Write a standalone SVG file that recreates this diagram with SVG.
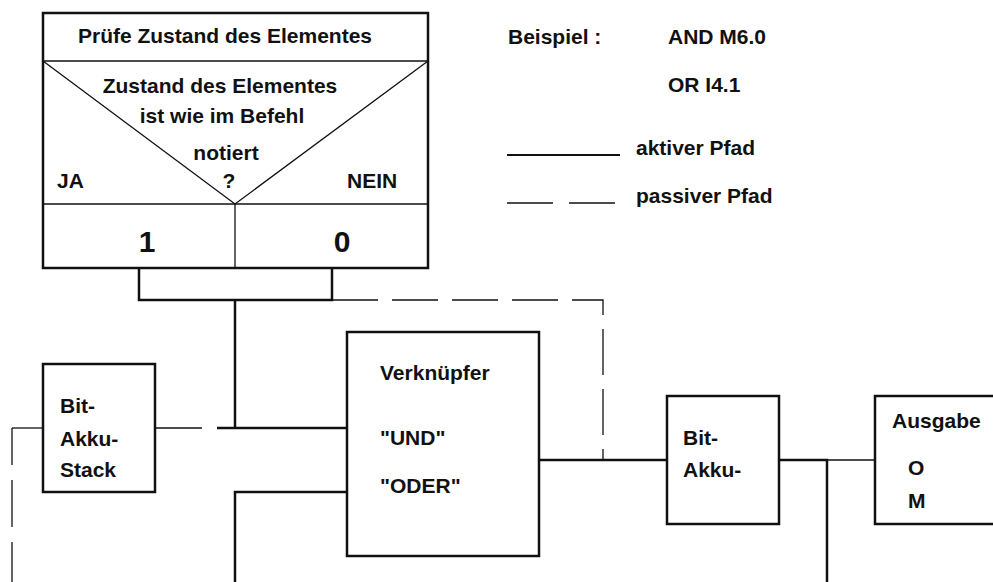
<svg xmlns="http://www.w3.org/2000/svg" width="993" height="582" viewBox="0 0 993 582">
<style>
text{font-family:"Liberation Sans",Arial,sans-serif;font-weight:bold;font-size:21px;fill:#111}
.box{fill:#fff;stroke:#111;stroke-width:2.5}
.thin{fill:none;stroke:#111;stroke-width:1.3}
.thick{fill:none;stroke:#111;stroke-width:2.5}
.dash{fill:none;stroke:#111;stroke-width:1.3;stroke-dasharray:46,14}
.c{text-anchor:middle}
</style>
<rect width="993" height="582" fill="#fff"/>
<g id="connectors">
<polyline class="thick" points="139,268 139,300 332,300 332,268"/>
<line class="thick" x1="235" y1="300" x2="235" y2="428"/>
<line class="thick" x1="217" y1="428" x2="348" y2="428"/>
<line class="thin" x1="155" y1="428" x2="202" y2="428"/>
<line class="thin" x1="12" y1="428" x2="43" y2="428"/>
<line class="thin" x1="12" y1="428" x2="12" y2="465"/>
<line class="thin" x1="12" y1="480" x2="12" y2="527"/>
<line class="thin" x1="12" y1="542" x2="12" y2="582"/>
<polyline class="thick" points="348,492 235,492 235,582"/>
<polyline class="dash" points="332,300 603,300 603,460"/>
<line class="thick" x1="539" y1="460" x2="667" y2="460"/>
<polyline class="thick" points="779,460 827,460 827,582"/>
<line class="thin" x1="827" y1="460" x2="875" y2="460"/>
<line class="thick" x1="507" y1="155" x2="620" y2="155" style="stroke-width:2"/>
<line class="thin" x1="507" y1="203" x2="553" y2="203"/>
<line class="thin" x1="569" y1="203" x2="615" y2="203"/>
</g>
<g id="pruefe">
<rect class="box" x="43" y="13" width="385" height="255"/>
<line class="thin" x1="43" y1="61" x2="428" y2="61"/>
<polyline class="thin" points="43,61 235,204 428,61"/>
<line class="thin" x1="43" y1="204" x2="428" y2="204"/>
<line class="thin" x1="235" y1="204" x2="235" y2="268"/>
<text class="c" x="225" y="43">Prüfe Zustand des Elementes</text>
<text class="c" x="220" y="93">Zustand des Elementes</text>
<text class="c" x="222" y="123">ist wie im Befehl</text>
<text class="c" x="226" y="160">notiert</text>
<text x="57" y="188">JA</text>
<text class="c" x="229" y="188">?</text>
<text x="347" y="188">NEIN</text>
<text class="c" x="147" y="252" style="font-size:30px">1</text>
<text class="c" x="342" y="252" style="font-size:30px">0</text>
</g>
<g id="legend">
<text x="508" y="44">Beispiel :</text>
<text x="668" y="44">AND M6.0</text>
<text x="668" y="92">OR I4.1</text>
<text x="636" y="155">aktiver Pfad</text>
<text x="636" y="203">passiver Pfad</text>
</g>
<g id="stack">
<rect class="box" x="43" y="364" width="112" height="128"/>
<text x="60" y="413">Bit-</text>
<text x="60" y="446">Akku-</text>
<text x="60" y="477">Stack</text>
</g>
<g id="verknuepfer">
<rect class="box" x="347" y="332" width="192" height="224"/>
<text x="380" y="380">Verknüpfer</text>
<text x="380" y="445">"UND"</text>
<text x="380" y="493">"ODER"</text>
</g>
<g id="akku">
<rect class="box" x="667" y="396" width="112" height="128"/>
<text x="683" y="445">Bit-</text>
<text x="683" y="477">Akku-</text>
</g>
<g id="ausgabe">
<rect class="box" x="875" y="396" width="130" height="128"/>
<text x="892" y="428">Ausgabe</text>
<text x="908" y="475">O</text>
<text x="908" y="508">M</text>
</g>
</svg>
